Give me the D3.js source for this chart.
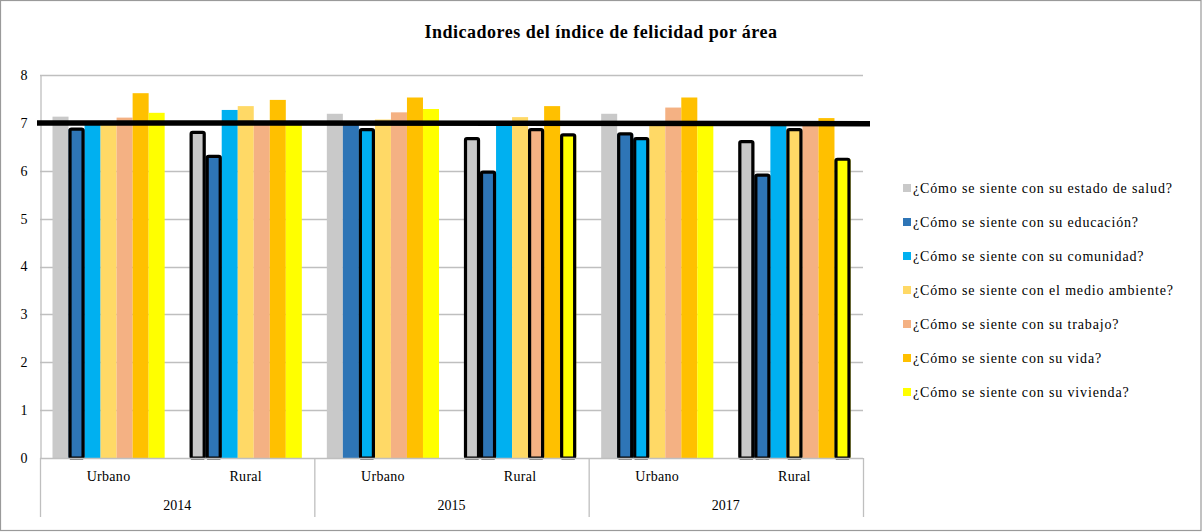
<!DOCTYPE html>
<html><head><meta charset="utf-8">
<script src="https://cdn.jsdelivr.net/npm/d3@7"></script>
<style>
html,body{margin:0;padding:0;background:#fff;}
</style></head>
<body><svg id="c" width="1202" height="532"></svg>
<script>
const years = ["2014", "2015", "2017"];
const areas = ["Urbano", "Rural"];
const categories = ["2014|Urbano", "2014|Rural", "2015|Urbano", "2015|Rural", "2017|Urbano", "2017|Rural"];
const seriesNames = [
  "¿Cómo se siente con su estado de salud?",
  "¿Cómo se siente con su educación?",
  "¿Cómo se siente con su comunidad?",
  "¿Cómo se siente con el medio ambiente?",
  "¿Cómo se siente con su trabajo?",
  "¿Cómo se siente con su vida?",
  "¿Cómo se siente con su vivienda?"
];
const salud     = [7.13, 6.80, 7.19, 6.67, 7.19, 6.61];
const educacion = [6.87, 6.30, 7.03, 5.97, 6.77, 5.91];
const comunidad = [7.02, 7.27, 6.86, 7.03, 6.67, 7.02];
const medio     = [7.03, 7.35, 7.07, 7.12, 7.03, 6.86];
const trabajo   = [7.11, 7.03, 7.22, 6.86, 7.32, 7.02];
const vida      = [7.62, 7.48, 7.53, 7.35, 7.53, 7.10];
const vivienda  = [7.21, 7.03, 7.29, 6.75, 7.03, 6.24];
const seriesValues = [salud, educacion, comunidad, medio, trabajo, vida, vivienda];
const colors = ["#C9C9C9", "#2E75B6", "#00B0F0", "#FFD966", "#F4B183", "#FFC000", "#FFFF00"];
const yTicks = [0, 1, 2, 3, 4, 5, 6, 7, 8];
const reference = 7;

const FONT = "'Liberation Serif', 'Times New Roman', serif";
const svg = d3.select("#c");
svg.append("rect").attr("x", 0.5).attr("y", 0.5).attr("width", 1200.5).attr("height", 530)
  .attr("fill", "#fff").attr("stroke", "#9a9a9a").attr("stroke-width", 1.2);

const L = 40, R = 863, T = 75, B = 458;
const x = d3.scaleBand().domain(categories).range([L, R]).paddingInner(0).paddingOuter(0);
const xs = d3.scaleBand().domain(d3.range(seriesNames.length)).range([12.5, x.bandwidth() - 12.5]).padding(0);
const y = d3.scaleLinear().domain([0, 8]).range([B, T]);

// gridlines
svg.append("g").selectAll("line").data(yTicks.filter(d => d > 0)).join("line")
  .attr("x1", L).attr("x2", R).attr("y1", d => Math.round(y(d)) + 0.5).attr("y2", d => Math.round(y(d)) + 0.5)
  .attr("stroke", "#BFBFBF").attr("stroke-width", 1.3);

// y axis
const yAxis = d3.axisLeft(y).tickValues(yTicks).tickSize(0).tickPadding(13).tickFormat(d3.format("d"));
const gy = svg.append("g").attr("transform", `translate(${L + 0.5},0)`).call(yAxis);
gy.attr("font-family", null).attr("font-size", null);
gy.select(".domain").attr("stroke", "#BFBFBF").attr("stroke-width", 1.3);
gy.selectAll("text").style("font-size", "14px").style("font-family", FONT).attr("fill", "#000");

// bars
const data = [];
categories.forEach((c, ci) => seriesValues.forEach((arr, si) => data.push({c, si, v: arr[ci]})));
const g = svg.append("g");
g.selectAll("rect.bar").data(data).join("rect").attr("class", "bar")
  .attr("x", d => x(d.c) + xs(d.si)).attr("width", xs.bandwidth())
  .attr("y", d => y(d.v)).attr("height", d => y(0) - y(d.v))
  .attr("fill", d => colors[d.si]);
// highlighted (below reference)
g.selectAll("rect.hl").data(data.filter(d => d.v < reference)).join("rect").attr("class", "hl")
  .attr("x", d => x(d.c) + xs(d.si) + 1.5).attr("width", xs.bandwidth() - 3)
  .attr("y", d => y(d.v)).attr("height", d => y(0) - y(d.v))
  .attr("fill", d => colors[d.si]).attr("stroke", "#000").attr("stroke-width", 3.2)
  .attr("stroke-linejoin", "round").attr("rx", 1.5);

// category axis
svg.append("line").attr("x1", L).attr("x2", R).attr("y1", B + 0.5).attr("y2", B + 0.5)
  .attr("stroke", "#BFBFBF").attr("stroke-width", 1.3);
const dividers = [L].concat(years.map((yr, i) => x(yr + "|Rural") + x.bandwidth()));
svg.append("g").selectAll("line").data(dividers).join("line")
  .attr("x1", d => d + 0.5).attr("x2", d => d + 0.5).attr("y1", B).attr("y2", 517)
  .attr("stroke", "#BFBFBF").attr("stroke-width", 1.3);
svg.append("g").selectAll("text").data(categories).join("text")
  .attr("x", d => x(d) + x.bandwidth() / 2).attr("y", 481).attr("text-anchor", "middle")
  .style("font-family", FONT).style("font-size", "14px").style("letter-spacing", "0.3px").text(d => d.split("|")[1]);
svg.append("g").selectAll("text").data(years).join("text")
  .attr("x", d => x(d + "|Urbano") + x.bandwidth()).attr("y", 510).attr("text-anchor", "middle")
  .style("font-family", FONT).style("font-size", "14px").text(d => d);

// reference line
svg.append("line").attr("x1", L - 3).attr("x2", R + 7).attr("y1", y(reference)).attr("y2", y(reference) + 0.8)
  .attr("stroke", "#000").attr("stroke-width", 5.5);

// title
svg.append("text").attr("x", 601).attr("y", 38).attr("text-anchor", "middle")
  .style("font-family", FONT).style("font-size", "18px").style("font-weight", "bold").style("letter-spacing", "0.5px")
  .text("Indicadores del índice de felicidad por área");

// legend
const lg = svg.append("g").selectAll("g").data(seriesNames).join("g")
  .attr("transform", (d, i) => `translate(903,${188 + i * 34})`);
lg.append("rect").attr("x", 0).attr("y", -4).attr("width", 8).attr("height", 8).attr("fill", (d, i) => colors[i]);
lg.append("text").attr("x", 10).attr("y", 5)
  .style("font-family", FONT).style("font-size", "14px").style("letter-spacing", "0.85px").text(d => d);
</script></body></html>
